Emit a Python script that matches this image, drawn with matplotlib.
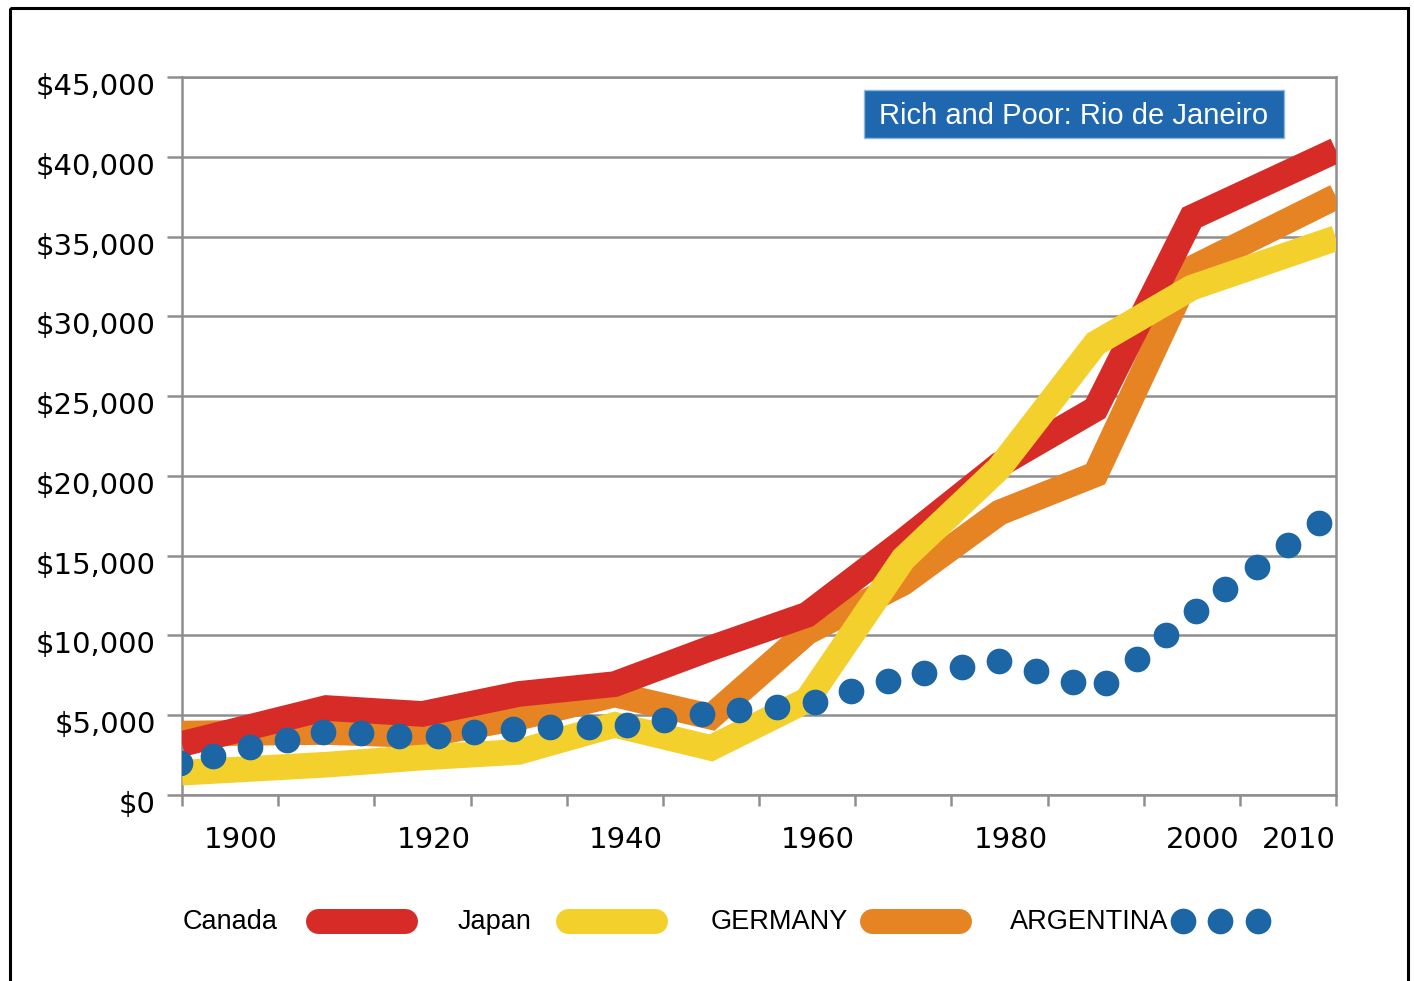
import matplotlib.pyplot as plt
from matplotlib.patches import Rectangle
from matplotlib.transforms import ScaledTranslation

# GDP per head
years = [1890, 1905, 1915, 1925, 1935, 1945, 1955, 1965, 1975, 1985, 1995, 2010]
canada = [3200, 5450, 5080, 6330, 6950, 9200, 11300, 15900, 20700, 24200, 36200, 40400]
japan = [1400, 1900, 2350, 2700, 4400, 2950, 5950, 14800, 20500, 28300, 31800, 34900]
germany = [3850, 3950, 3750, 4850, 6300, 4900, 10200, 13300, 17700, 20100, 33000, 37500]

arg_years = [1889.8, 1893.2, 1897.1, 1900.9, 1904.7, 1908.6, 1912.6, 1916.6, 1920.4,
             1924.4, 1928.3, 1932.3, 1936.3, 1940.1, 1944.1, 1947.9, 1951.9, 1955.8,
             1959.6, 1963.4, 1967.2, 1971.1, 1975.0, 1978.8, 1982.6, 1986.1, 1989.3,
             1992.3, 1995.4, 1998.5, 2001.8, 2005.0, 2008.2]
argentina = [2000, 2440, 3010, 3450, 3950, 3890, 3700, 3700, 3950,
             4140, 4260, 4260, 4390, 4700, 5080, 5330, 5510, 5830,
             6520, 7140, 7640, 8020, 8400, 7770, 7080, 7020, 8520,
             10030, 11530, 12910, 14290, 15660, 17040]

tick_years = list(range(1890, 2011, 10))
tick_labels = ['', '1900', '', '1920', '', '1940', '', '1960', '', '1980', '', '2000', '2010']
y_ticks = list(range(0, 45001, 5000))

legend_names = ['Canada', 'Japan', 'GERMANY', 'ARGENTINA']

red = '#d62b27'
yellow = '#f4d02c'
orange = '#e68424'
blue = '#1c66a5'
grey = '#8e8e8e'

fig = plt.figure(figsize=(14.14, 9.81), dpi=100)
ax = fig.add_axes([182 / 1414, 1 - 795 / 981, 1154 / 1414, 718 / 981])

ax.plot(years, germany, color=orange, lw=18.5, solid_joinstyle='miter', solid_capstyle='butt', zorder=3)
ax.plot(years, canada, color=red, lw=18.5, solid_joinstyle='miter', solid_capstyle='butt', zorder=4)
ax.plot(years, japan, color=yellow, lw=18.5, solid_joinstyle='miter', solid_capstyle='butt', zorder=5)
ax.plot(arg_years, argentina, 'o', color=blue, ms=18.5, mew=0, zorder=6)

ax.set_xlim(1890, 2010)
ax.set_ylim(0, 45000)
ax.set_xticks(tick_years)
ax.set_xticklabels(tick_labels, ha='right')
ax.set_yticks(y_ticks)
ax.set_yticklabels([f'${v:,}' for v in y_ticks])

ax.grid(axis='y', color=grey, lw=1.8)
ax.set_axisbelow(True)
for s in ax.spines.values():
    s.set_color(grey)
    s.set_linewidth(1.8)
ax.tick_params(axis='x', direction='out', length=8, width=1.8, color=grey, pad=14, labelsize=21)
ax.tick_params(axis='y', direction='out', length=11, width=1.8, color=grey, pad=8, labelsize=21)

offset = ScaledTranslation(0, -7 / 100, fig.dpi_scale_trans)
for label in ax.get_yticklabels():
    label.set_transform(label.get_transform() + offset)

# title box
ax.add_patch(Rectangle((0.591, 0.915), 0.364, 0.067, transform=ax.transAxes,
                       facecolor='#1f68b0', edgecolor='#8ab8e0', lw=1, zorder=7, clip_on=False))
ax.text(0.773, 0.945, 'Rich and Poor: Rio de Janeiro', transform=ax.transAxes,
        ha='center', va='center', color='white', fontsize=21,
        family='Liberation Sans', zorder=8)

# legend + frame drawn on an overlay in pixel units
lg = fig.add_axes([0, 0, 1, 1])
lg.set_xlim(0, 1414)
lg.set_ylim(981, 0)
lg.axis('off')

text_x = [183, 458, 711, 1010]
pill_x = [(305, 417), (555, 667), (859, 971)]
for name, x in zip(legend_names, text_x):
    lg.text(x, 922, name, va='center', ha='left', fontsize=19.5, family='Liberation Sans')
for (x0, x1), c in zip(pill_x, [red, yellow, orange]):
    lg.plot([x0 + 12.5, x1 - 12.5], [921, 921], color=c, lw=18, solid_capstyle='round')
lg.plot([1183, 1220, 1258], [921, 921, 921], 'o', color=blue, ms=18.5, mew=0)

lg.add_patch(Rectangle((10, 8), 1398, 1100, fill=False, ec='black', lw=2.2, clip_on=False))

fig.savefig('out.png', dpi=100)
